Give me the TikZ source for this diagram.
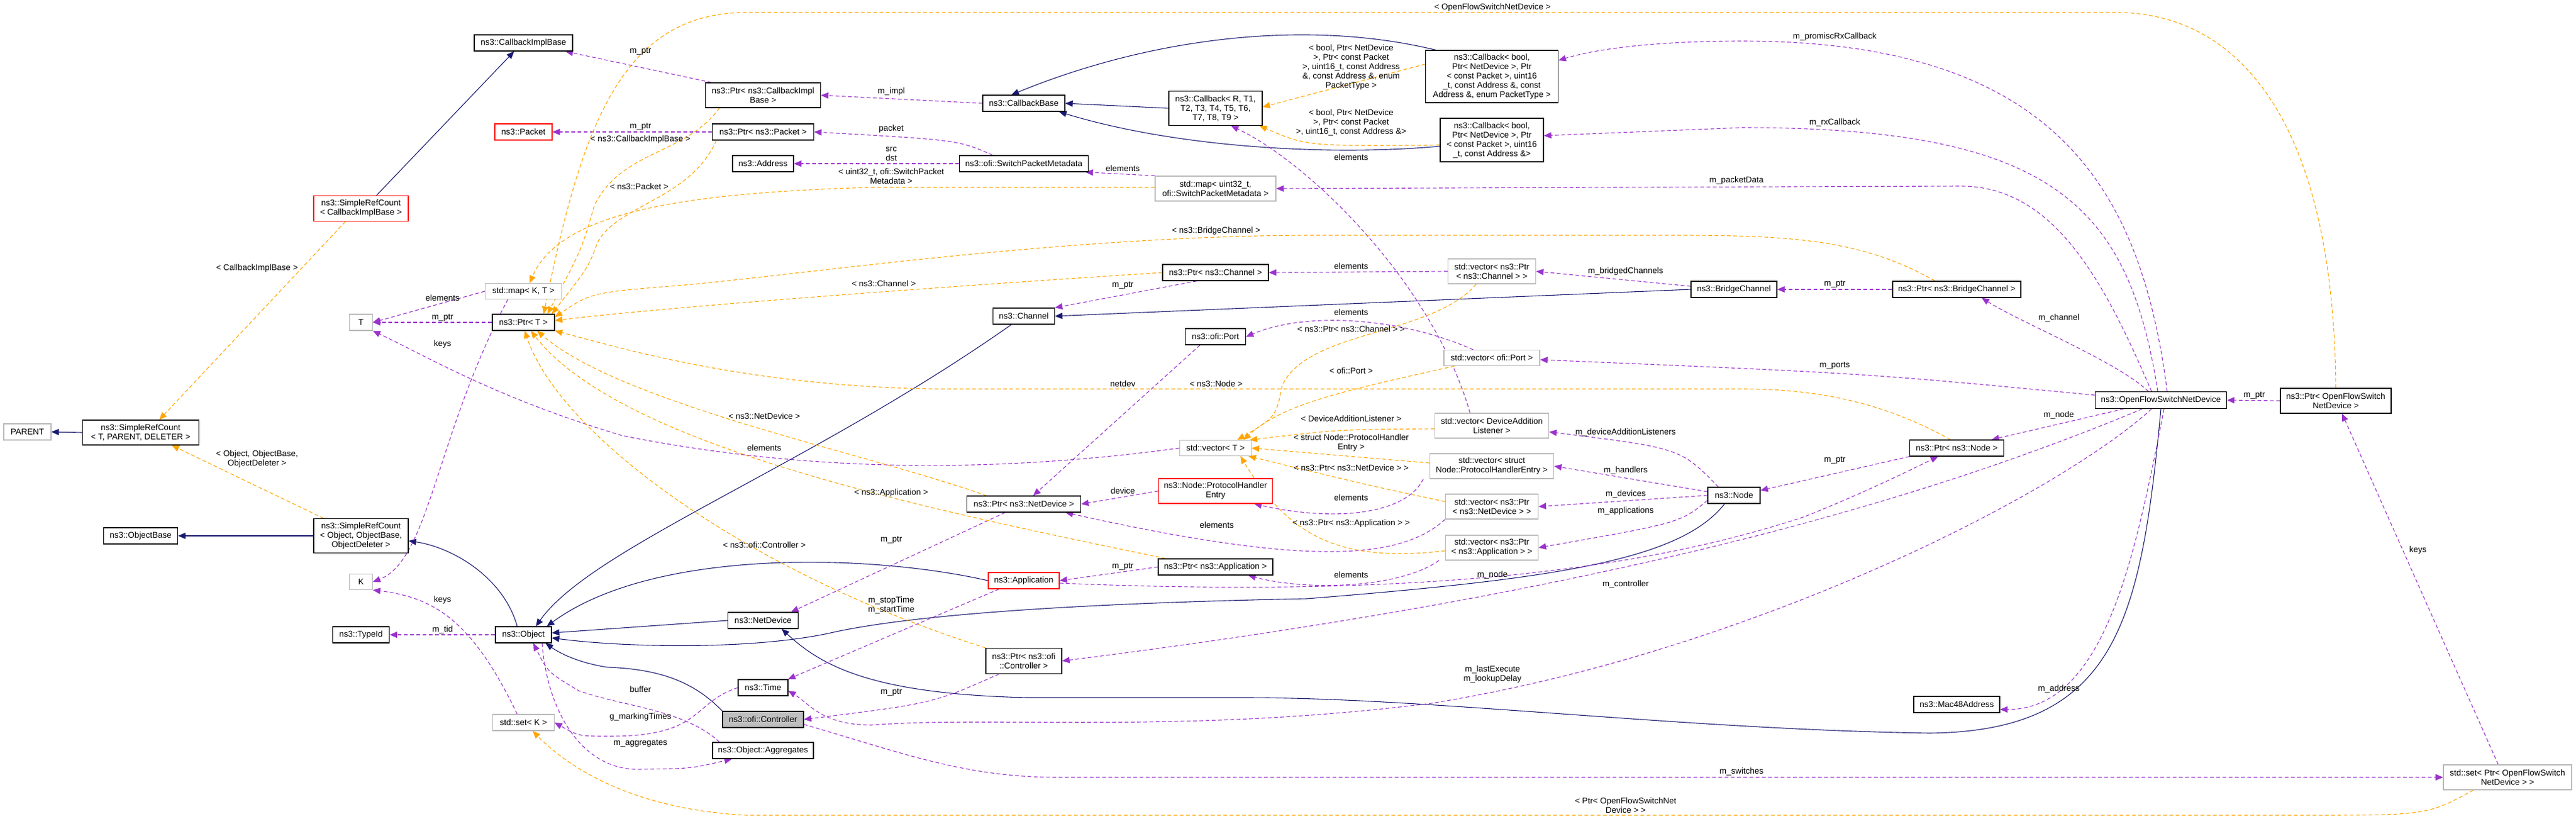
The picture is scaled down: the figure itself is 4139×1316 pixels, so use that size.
\documentclass[tikz,border=0pt]{standalone}
\usepackage{fontspec}
\setmainfont{Liberation Sans}
\usetikzlibrary{arrows.meta}
\definecolor{pu}{HTML}{9A32CD}
\definecolor{og}{HTML}{FFA500}
\definecolor{nv}{HTML}{191970}
\pgfdeclarelayer{bg}
\pgfdeclarelayer{edges}
\pgfsetlayers{bg,edges,main}
\begin{document}
\begin{tikzpicture}[x=1pt,y=-1pt,
  every node/.style={font=\fontsize{13.5}{15}\selectfont},
  box/.style={draw=black,line width=1.2pt,inner sep=0pt,align=center,fill=white},
  gbox/.style={box,draw=gray!55},
  rbox/.style={box,draw=red},
  lbl/.style={inner sep=0pt,align=center},
  inh/.style={-{Triangle[length=12pt,width=10pt]},draw=nv,line width=1.1pt},
  use/.style={-{Triangle[length=12pt,width=10pt]},draw=pu,line width=1.1pt,dash pattern=on 6pt off 4pt},
  tpl/.style={-{Triangle[length=12pt,width=10pt]},draw=og,line width=1.1pt,dash pattern=on 6pt off 4pt}]
\begin{pgfonlayer}{bg}
\fill[white] (0,0) rectangle (4139,1316);
\end{pgfonlayer}
\useasboundingbox (0,0) rectangle (4139,1316);
% nodes
\node[box,minimum width=158,minimum height=26] (cib) at (841,69) {ns3::CallbackImplBase};
\node[box,minimum width=185,minimum height=40] (pcib) at (1226,153) {ns3::Ptr< ns3::CallbackImpl\\Base >};
\node[rbox,minimum width=92,minimum height=26] (packet) at (841,212) {ns3::Packet};
\node[box,minimum width=163,minimum height=26] (ppacket) at (1226,212) {ns3::Ptr< ns3::Packet >};
\node[box,minimum width=98,minimum height=26] (address) at (1226,263) {ns3::Address};
\node[rbox,minimum width=152,minimum height=41] (srccib) at (580,335) {ns3::SimpleRefCount\\< CallbackImplBase >};
\node[gbox,minimum width=123,minimum height=25] (mapkt) at (841,468) {std::map< K, T >};
\node[gbox,minimum width=37,minimum height=26] (T) at (580,518) {T};
\node[box,minimum width=100,minimum height=26] (ptrt) at (841,518) {ns3::Ptr< T >};
\node[box,minimum width=132,minimum height=26] (cbase) at (1645,166) {ns3::CallbackBase};
\node[box,minimum width=150,minimum height=55] (cbr) at (1953,174) {ns3::Callback< R, T1,\\T2, T3, T4, T5, T6,\\T7, T8, T9 >};
\node[box,minimum width=213,minimum height=84] (cbpt) at (2397,123) {ns3::Callback< bool,\\Ptr< NetDevice >, Ptr\\< const Packet >, uint16\\\_t, const Address \&, const\\Address \&, enum PacketType >};
\node[box,minimum width=166,minimum height=70] (cbad) at (2397,225) {ns3::Callback< bool,\\Ptr< NetDevice >, Ptr\\< const Packet >, uint16\\\_t, const Address \&>};
\node[box,minimum width=207,minimum height=26] (spm) at (1645,263) {ns3::ofi::SwitchPacketMetadata};
\node[gbox,minimum width=194,minimum height=40] (mapspm) at (1953,303) {std::map< uint32\_t,\\ofi::SwitchPacketMetadata >};
\node[box,minimum width=170,minimum height=26] (pchan) at (1953,438) {ns3::Ptr< ns3::Channel >};
\node[box,minimum width=99,minimum height=26] (channel) at (1645,508) {ns3::Channel};
\node[gbox,minimum width=141,minimum height=40] (vpc) at (2397,436) {std::vector< ns3::Ptr\\< ns3::Channel > >};
\node[box,minimum width=138,minimum height=26] (bridge) at (2786,465) {ns3::BridgeChannel};
\node[box,minimum width=97,minimum height=26] (port) at (1953,541) {ns3::ofi::Port};
\node[gbox,minimum width=154,minimum height=25] (vport) at (2397,575) {std::vector< ofi::Port >};
\node[box,minimum width=206,minimum height=26] (pbc) at (3144,465) {ns3::Ptr< ns3::BridgeChannel >};
\node[box,minimum width=211,minimum height=27] (ofsnd) at (3472,643) {ns3::OpenFlowSwitchNetDevice};
\node[box,minimum width=178,minimum height=40] (pof) at (3753,644) {ns3::Ptr< OpenFlowSwitch\\NetDevice >};
\node[gbox,minimum width=76,minimum height=26] (parent) at (44,694) {PARENT};
\node[box,minimum width=187,minimum height=40] (srct) at (226,695) {ns3::SimpleRefCount\\< T, PARENT, DELETER >};
\node[box,minimum width=119,minimum height=26] (objbase) at (226,861) {ns3::ObjectBase};
\node[box,minimum width=152,minimum height=55] (srcobj) at (580,861) {ns3::SimpleRefCount\\< Object, ObjectBase,\\ObjectDeleter >};
\node[gbox,minimum width=37,minimum height=25] (K) at (580,935) {K};
\node[box,minimum width=91,minimum height=26] (typeid) at (580,1020) {ns3::TypeId};
\node[box,minimum width=90,minimum height=26] (object) at (841,1020) {ns3::Object};
\node[box,minimum width=113,minimum height=26] (netdev) at (1226,997) {ns3::NetDevice};
\node[box,minimum width=80,minimum height=26] (time) at (1226,1105) {ns3::Time};
\node[box,fill=gray!50,minimum width=130,minimum height=26] (ctrl) at (1226,1156) {ns3::ofi::Controller};
\node[gbox,minimum width=99,minimum height=26] (setk) at (841,1161) {std::set< K >};
\node[box,minimum width=162,minimum height=26] (aggr) at (1226,1206) {ns3::Object::Aggregates};
\node[gbox,minimum width=115,minimum height=25] (vect) at (1953,720) {std::vector< T >};
\node[gbox,minimum width=183,minimum height=40] (vdal) at (2397,684) {std::vector< DeviceAddition\\Listener >};
\node[gbox,minimum width=199,minimum height=40] (vphe) at (2397,749) {std::vector< struct\\Node::ProtocolHandlerEntry >};
\node[box,minimum width=183,minimum height=26] (pnd) at (1645,810) {ns3::Ptr< ns3::NetDevice >};
\node[rbox,minimum width=183,minimum height=40] (phe) at (1953,789) {ns3::Node::ProtocolHandler\\Entry};
\node[gbox,minimum width=149,minimum height=40] (vpnd) at (2397,814) {std::vector< ns3::Ptr\\< ns3::NetDevice > >};
\node[gbox,minimum width=149,minimum height=40] (vpapp) at (2397,880) {std::vector< ns3::Ptr\\< ns3::Application > >};
\node[box,minimum width=184,minimum height=26] (papp) at (1953,911) {ns3::Ptr< ns3::Application >};
\node[rbox,minimum width=114,minimum height=26] (app) at (1645,933) {ns3::Application};
\node[box,minimum width=122,minimum height=41] (pctrl) at (1645,1062) {ns3::Ptr< ns3::ofi\\::Controller >};
\node[box,minimum width=84,minimum height=26] (node) at (2786,796) {ns3::Node};
\node[box,minimum width=151,minimum height=26] (pnode) at (3144,720) {ns3::Ptr< ns3::Node >};
\node[box,minimum width=138,minimum height=26] (mac) at (3144,1132) {ns3::Mac48Address};
\node[gbox,minimum width=206,minimum height=40] (setof) at (4029,1249) {std::set< Ptr< OpenFlowSwitch\\NetDevice > >};
\begin{pgfonlayer}{edges}
% inheritance
\draw[inh] ([xshift=25]srccib.north) -- ([xshift=-15]cib.south);
\draw[inh] (srct.west) -- (parent.east);
\draw[inh] (srcobj.west) -- (objbase.east);
\draw[inh] ([xshift=-10]object.north) .. controls (810,930) and (730,880) .. ([yshift=-8]srcobj.east);
\draw[inh] ([xshift=-20]channel.south) .. controls (1300,750) and (950,880) .. ([xshift=20]object.north);
\draw[inh] (netdev.west) -- ([yshift=3]object.east);
\draw[inh] (app.west) .. controls (1400,890) and (1050,880) .. ([xshift=-8]object.north east);
\draw[inh] ([xshift=-15]node.south) .. controls (2700,900) and (2500,930) .. (2100,962) .. controls (1700,970) and (1450,990) .. (1330,1018) .. controls (1200,1045) and (1000,1040) .. ([yshift=-5]object.east);
\draw[inh] (ctrl.north west) .. controls (1110,1090) and (1050,1075) .. (975,1072) .. controls (930,1065) and (900,1050) .. ([xshift=-10]object.south east);
\draw[inh] (ofsnd.south) .. controls (3440,1000) and (3400,1175) .. (3100,1178) .. controls (2700,1172) and (2300,1121) .. (2000,1121) -- (1650,1121) .. controls (1400,1115) and (1320,1070) .. ([xshift=30]netdev.south);
\draw[inh] (bridge.west) -- (channel.east);
\draw[inh] (cbr.west) -- (cbase.east);
\draw[inh] ([xshift=-90]cbpt.north) .. controls (2100,30) and (1850,60) .. ([xshift=-20]cbase.north);
\draw[inh] ([yshift=-10]cbad.west) .. controls (2150,250) and (1900,240) .. ([xshift=-10]cbase.south east);
% usage
\draw[use] ([xshift=10]pcib.north west) -- ([xshift=-12]cib.south east);
\draw[use] (cbase.west) -- (pcib.east);
\draw[use] (ppacket.west) -- (packet.east);
\draw[use] ([xshift=-50]spm.north) .. controls (1540,225) .. (ppacket.east);
\draw[use] (spm.west) -- (address.east);
\draw[use] (mapspm.north west) -- ([xshift=-5]spm.south east);
\draw[use] (mapkt.west) -- (T.east);
\draw[use] (ptrt.west) -- (T.east);
\draw[use] ([xshift=-25]mapkt.south) .. controls (700,700) and (690,900) .. (K.east);
\draw[use] ([xshift=-10]setk.north) .. controls (760,1000) and (700,960) .. (K.south east);
\draw[use] (vect.west) .. controls (1600,760) and (1300,760) .. (1000,700) .. controls (800,640) and (700,580) .. (T.south east);
\draw[use] (object.west) -- (typeid.east);
\draw[use] ([xshift=-30]pchan.south) -- (channel.north east);
\draw[use] (vpc.west) -- (pchan.east);
\draw[use] ([yshift=5]bridge.west) -- (vpc.east);
\draw[use] (pbc.west) -- (bridge.east);
\draw[use] ([xshift=-20]ofsnd.north) .. controls (3400,580) and (3250,520) .. ([xshift=40]pbc.south);
\draw[use] ([xshift=10]ofsnd.north) .. controls (3440,300) and (3300,66) .. (2800,66) .. controls (2650,66) and (2560,80) .. ([yshift=26]cbpt.east);
\draw[use] ([xshift=-5]ofsnd.north) .. controls (3420,330) and (3300,205) .. (2800,205) -- ([yshift=7]cbad.east);
\draw[use] ([xshift=-15]ofsnd.north) .. controls (3380,450) and (3300,299) .. (3150,299) -- (mapspm.east);
\draw[use] ([yshift=8]ofsnd.west) .. controls (3000,600) .. ([yshift=-3]vport.east);
\draw[use] ([xshift=-30]vport.north) .. controls (2250,510) and (2100,500) .. (port.east);
\draw[use] ([xshift=-25]port.south) -- ([xshift=15]pnd.north);
\draw[use] ([xshift=-30]pnd.south) -- ([xshift=45]netdev.north);
\draw[use] (phe.west) -- (pnd.east);
\draw[use] (vpnd.south west) .. controls (2250,900) and (2100,910) .. ([xshift=-25]pnd.south east);
\draw[use] ([xshift=-10]vphe.south west) .. controls (2260,825) and (2150,840) .. ([xshift=-30]phe.south east);
\draw[use] ([xshift=-25]node.north) .. controls (2700,720) .. ([yshift=-10]vdal.east);
\draw[use] ([yshift=6]node.west) -- (vphe.east);
\draw[use] (node.west) -- (vpnd.east);
\draw[use] ([yshift=-8]node.west) .. controls (2700,840) .. (vpapp.east);
\draw[use] ([xshift=-10]vpapp.south west) .. controls (2250,945) and (2100,950) .. ([xshift=-40]papp.south east);
\draw[use] (papp.west) -- (app.east);
\draw[use] ([yshift=-4]app.east) .. controls (2200,958) and (2600,930) .. (2900,830) .. controls (3000,790) and (3080,750) .. ([xshift=-30]pnode.south);
\draw[use] (pnode.south west) -- ([yshift=8]node.east);
\draw[use] ([xshift=-60]ofsnd.south) -- ([xshift=-20]pnode.north east);
\draw[use] ([xshift=-30]ofsnd.south) .. controls (3100,800) and (2600,950) .. (pctrl.east);
\draw[use] ([xshift=-15]ofsnd.south) .. controls (3300,800) and (2800,1050) .. (2300,1130) .. controls (1900,1180) and (1600,1150) .. (1400,1165) .. controls (1320,1165) and (1300,1130) .. ([yshift=-5]time.east);
\draw[use] ([xshift=5]ofsnd.south) .. controls (3430,900) and (3380,1140) .. ([yshift=-8]mac.east);
\draw[use] ([xshift=-40]pctrl.south) .. controls (1500,1130) .. (ctrl.east);
\draw[use] ([xshift=-40]app.south) -- ([xshift=40]time.north);
\draw[use] ([yshift=-8]ctrl.east) .. controls (1450,1210) and (1550,1249) .. (1700,1249) -- (setof.west);
\draw[use] ([xshift=-15]setof.north) -- ([xshift=10]pof.south);
\draw[use] (pof.west) -- (ofsnd.east);
\draw[use] ([xshift=-70]aggr.north) .. controls (1100,1140) and (1000,1135) .. (930,1110) .. controls (880,1080) .. ([xshift=16]object.south);
\draw[use] ([xshift=30]object.south) .. controls (880,1150) and (940,1240) .. (1030,1236) .. controls (1110,1235) .. ([xshift=-50]aggr.south);
\draw[use] (time.west) .. controls (1110,1130) and (1130,1183) .. (980,1183) .. controls (930,1183) .. (setk.east);
\draw[use] ([xshift=-35]vdal.north) .. controls (2300,450) and (2100,260) .. ([xshift=25]cbr.south);
% template
\draw[tpl] ([xshift=-25]srccib.south) -- ([xshift=30]srct.north);
\draw[tpl] ([xshift=-60]srcobj.north) -- ([xshift=50]srct.south);
\draw[tpl] ([xshift=-70]pcib.south) .. controls (1100,250) and (1000,240) .. (955,330) .. controls (935,400) .. ([xshift=-12]ptrt.north east);
\draw[tpl] ([xshift=-75]ppacket.south) .. controls (1110,320) and (990,330) .. (960,390) .. controls (945,430) .. ([xshift=-5]ptrt.north east);
\draw[tpl] (pof.north) .. controls (3750,200) and (3600,20) .. (3400,20) -- (1200,20) .. controls (1000,20) and (935,200) .. ([xshift=-18]ptrt.north east);
\draw[tpl] ([yshift=2]mapspm.west) -- (1400,301) .. controls (1100,310) and (900,340) .. ([xshift=10]mapkt.north);
\draw[tpl] ([xshift=-35]pbc.north) .. controls (3000,390) and (2900,378) .. (2700,378) -- (2100,378) .. controls (1700,380) and (1300,440) .. (1100,458) .. controls (950,470) .. ([yshift=-5]ptrt.north east);
\draw[tpl] (pchan.west) .. controls (1600,455) and (1100,490) .. ([yshift=3]ptrt.east);
\draw[tpl] ([xshift=-10]pnode.north) .. controls (3050,660) and (2950,625) .. (2800,625) -- (1500,625) .. controls (1200,620) and (1000,560) .. (ptrt.south east);
\draw[tpl] ([xshift=-60]pnd.north) .. controls (1400,730) and (1000,650) .. ([xshift=22]ptrt.south);
\draw[tpl] ([xshift=-80]papp.north) .. controls (1500,820) and (1000,720) .. ([xshift=12]ptrt.south);
\draw[tpl] (pctrl.north west) .. controls (1200,920) and (900,700) .. ([xshift=2]ptrt.south);
\draw[tpl] ([yshift=20]cbpt.west) -- ([yshift=2]cbr.east);
\draw[tpl] ([yshift=-8]cbad.west) .. controls (2100,235) .. ([xshift=-5]cbr.south east);
\draw[tpl] ([xshift=-25]vpc.south) .. controls (2300,540) and (2100,530) .. (2060,620) .. controls (2050,670) .. ([xshift=35]vect.north);
\draw[tpl] ([xshift=-60]vport.south) .. controls (2150,630) and (2060,650) .. ([xshift=45]vect.north);
\draw[tpl] ([yshift=-5]vdal.west) .. controls (2150,690) .. ([xshift=-3]vect.north east);
\draw[tpl] ([yshift=5]vphe.west) -- (vect.east);
\draw[tpl] ([yshift=8]vpnd.west) .. controls (2200,780) .. ([xshift=-5]vect.south east);
\draw[tpl] ([yshift=-5]vpapp.west) .. controls (2150,905) and (2070,860) .. ([xshift=-18]vect.south east);
\draw[tpl] ([xshift=-55]setof.south) .. controls (3900,1310) .. (3700,1310) -- (1200,1310) .. controls (1000,1300) and (900,1220) .. ([xshift=15]setk.south);
\end{pgfonlayer}
% labels
\node[lbl] (l1) at (1029,83) {m\_ptr};
\node[lbl] (l2) at (1029,204) {m\_ptr};
\node[lbl] (l3) at (1029,224) {< ns3::CallbackImplBase >};
\node[lbl] (l4) at (1027,300) {< ns3::Packet >};
\node[lbl] (l5) at (413,431) {< CallbackImplBase >};
\node[lbl] (l6) at (711,479) {elements};
\node[lbl] (l7) at (711,511) {m\_ptr};
\node[lbl] (l8) at (711,553) {keys};
\node[lbl] (l9) at (2398,12) {< OpenFlowSwitchNetDevice >};
\node[lbl] (l10) at (1432,147) {m\_impl};
\node[lbl] (l11) at (2171,108) {< bool, Ptr< NetDevice\\>, Ptr< const Packet\\>, uint16\_t, const Address\\\&, const Address \&, enum\\PacketType >};
\node[lbl] (l12) at (2171,197) {< bool, Ptr< NetDevice\\>, Ptr< const Packet\\>, uint16\_t, const Address \&>};
\node[lbl] (l13) at (2171,253) {elements};
\node[lbl] (l14) at (1432,207) {packet};
\node[lbl] (l15) at (1432,247) {src\\dst};
\node[lbl] (l16) at (1432,283) {< uint32\_t, ofi::SwitchPacket\\Metadata >};
\node[lbl] (l17) at (1804,271) {elements};
\node[lbl] (l18) at (2790,290) {m\_packetData};
\node[lbl] (l19) at (1954,371) {< ns3::BridgeChannel >};
\node[lbl] (l20) at (1420,456) {< ns3::Channel >};
\node[lbl] (l21) at (2171,428) {elements};
\node[lbl] (l22) at (2612,436) {m\_bridgedChannels};
\node[lbl] (l23) at (1804,459) {m\_ptr};
\node[lbl] (l24) at (2171,502) {elements};
\node[lbl] (l25) at (2171,529) {< ns3::Ptr< ns3::Channel > >};
\node[lbl] (l26) at (2171,596) {< ofi::Port >};
\node[lbl] (l27) at (1804,617) {netdev};
\node[lbl] (l28) at (1954,617) {< ns3::Node >};
\node[lbl] (l29) at (2948,59) {m\_promiscRxCallback};
\node[lbl] (l30) at (2948,197) {m\_rxCallback};
\node[lbl] (l31) at (2948,457) {m\_ptr};
\node[lbl] (l32) at (3308,511) {m\_channel};
\node[lbl] (l33) at (2948,588) {m\_ports};
\node[lbl] (l34) at (3622,636) {m\_ptr};
\node[lbl] (l35) at (413,738) {< Object, ObjectBase,\\ObjectDeleter >};
\node[lbl] (l36) at (711,964) {keys};
\node[lbl] (l37) at (711,1012) {m\_tid};
\node[lbl] (l38) at (1228,669) {< ns3::NetDevice >};
\node[lbl] (l39) at (1228,720) {elements};
\node[lbl] (l40) at (1228,876) {< ns3::ofi::Controller >};
\node[lbl] (l41) at (1029,1108) {buffer};
\node[lbl] (l42) at (1029,1152) {g\_markingTimes};
\node[lbl] (l43) at (1029,1195) {m\_aggregates};
\node[lbl] (l44) at (1432,792) {< ns3::Application >};
\node[lbl] (l45) at (1432,972) {m\_stopTime\\m\_startTime};
\node[lbl] (l46) at (1432,868) {m\_ptr};
\node[lbl] (l47) at (1432,1113) {m\_ptr};
\node[lbl] (l48) at (2171,673) {< DeviceAdditionListener >};
\node[lbl] (l49) at (2171,712) {< struct Node::ProtocolHandler\\Entry >};
\node[lbl] (l50) at (2171,752) {< ns3::Ptr< ns3::NetDevice > >};
\node[lbl] (l51) at (2171,800) {elements};
\node[lbl] (l52) at (2171,841) {< ns3::Ptr< ns3::Application > >};
\node[lbl] (l53) at (1955,844) {elements};
\node[lbl] (l54) at (1804,789) {device};
\node[lbl] (l55) at (1804,911) {m\_ptr};
\node[lbl] (l56) at (2171,924) {elements};
\node[lbl] (l57) at (2612,695) {m\_deviceAdditionListeners};
\node[lbl] (l58) at (2612,756) {m\_handlers};
\node[lbl] (l59) at (2612,794) {m\_devices};
\node[lbl] (l60) at (2612,821) {m\_applications};
\node[lbl] (l61) at (2398,924) {m\_node};
\node[lbl] (l62) at (2612,939) {m\_controller};
\node[lbl] (l63) at (2398,1083) {m\_lastExecute\\m\_lookupDelay};
\node[lbl] (l64) at (2798,1240) {m\_switches};
\node[lbl] (l65) at (2612,1294) {< Ptr< OpenFlowSwitchNet\\Device > >};
\node[lbl] (l66) at (3308,667) {m\_node};
\node[lbl] (l67) at (2948,740) {m\_ptr};
\node[lbl] (l68) at (3885,884) {keys};
\node[lbl] (l69) at (3308,1107) {m\_address};
\end{tikzpicture}
\end{document}
